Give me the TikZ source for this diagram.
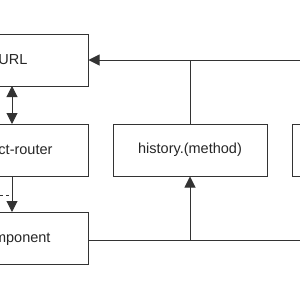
\documentclass[tikz,border=0pt]{standalone}
\usepackage{fontspec}
\setmainfont{Liberation Sans}
\usetikzlibrary{arrows.meta}
\begin{document}
\begin{tikzpicture}[x=1pt,y=-1pt,
  box/.style={draw=black!80,line width=1pt,minimum width=154pt,minimum height=52pt,inner sep=0pt,font=\fontsize{14.5}{16}\selectfont,text=black!85},
  lbl/.style={font=\fontsize{14.5}{16}\selectfont,text=black!85},
  ln/.style={draw=black!80,line width=1pt},
  arr/.style={ln,-{Triangle[length=11pt,width=11pt]}},
  darr/.style={ln,{Triangle[length=11pt,width=11pt]}-{Triangle[length=11pt,width=11pt]}}]
\useasboundingbox (0,0) rectangle (300,300);
\clip (0,0) rectangle (300,300);
\node[box] (url) at (11,60) {};
\node[lbl] (urlt) at (13,60) {URL};
\node[box] (rr) at (11,150) {};
\node[lbl] (rrt) at (15,150) {react-router};
\node[box] (comp) at (11,238.5) {};
\node[lbl] (compt) at (13,238.5) {Component};
\node[box] (hist) at (190,150) {history.(method)};
\node[box] (rbox) at (369,150) {};
\coordinate (rin) at (310,60);
\coordinate (rout) at (310,240);
\coordinate (dl) at (-30,195);
\coordinate (a1) at (12,86);
\coordinate (a2) at (12,124);
\coordinate (b1) at (12,176);
\coordinate (b2) at (12,212);
\draw[darr] (a1) -- (a2);
\draw[arr] (b1) -- (b2);
\draw[ln,dashed] (dl) -- (dl -| b1);
\draw[arr] (rin) -- (url.east);
\draw[ln] (hist.north) -- (hist.north |- rin);
\draw[ln] (comp.east |- rout) -- (rout);
\draw[arr] (hist.south |- rout) -- (hist.south);
\end{tikzpicture}
\end{document}
